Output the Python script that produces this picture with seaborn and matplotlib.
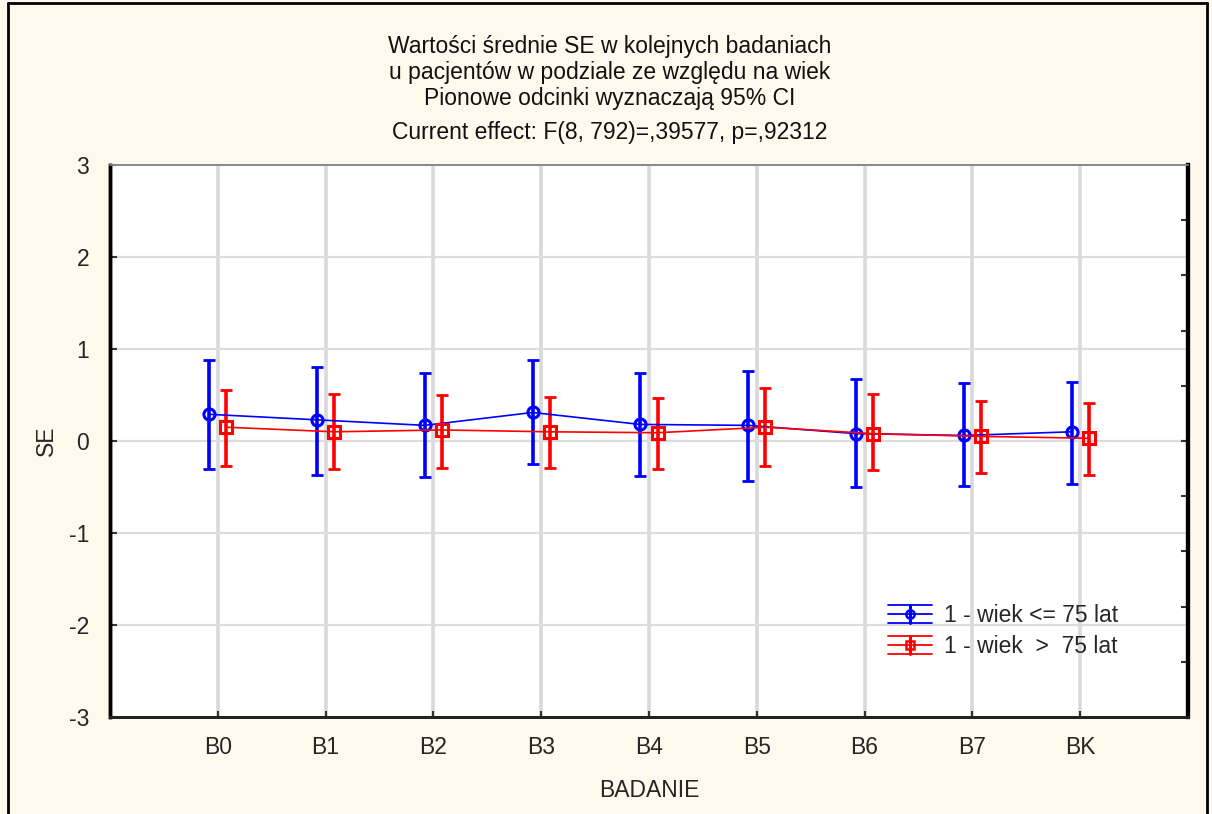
import numpy as np
import pandas as pd
import matplotlib
matplotlib.use("Agg")
import matplotlib.pyplot as plt
import seaborn as sns
from matplotlib.lines import Line2D
from matplotlib.legend_handler import HandlerBase

categories = ["B0", "B1", "B2", "B3", "B4", "B5", "B6", "B7", "BK"]
groups = ["1 - wiek <= 75 lat", "1 - wiek  >  75 lat"]
mean_young = [0.29, 0.23, 0.17, 0.31, 0.18, 0.17, 0.08, 0.06, 0.10]
low_young = [-0.30, -0.37, -0.39, -0.25, -0.38, -0.43, -0.50, -0.49, -0.47]
high_young = [0.88, 0.80, 0.74, 0.88, 0.74, 0.76, 0.67, 0.63, 0.64]
mean_old = [0.15, 0.10, 0.12, 0.10, 0.09, 0.15, 0.08, 0.05, 0.03]
low_old = [-0.27, -0.30, -0.29, -0.29, -0.30, -0.27, -0.32, -0.35, -0.37]
high_old = [0.55, 0.51, 0.50, 0.48, 0.47, 0.58, 0.51, 0.43, 0.41]
yticks_left = [-3, -2, -1, 0, 1, 2, 3]
yticks_right = [-2.4, -1.8, -1.2, -0.6, 0, 0.6, 1.2, 1.8, 2.4]

title_lines = [
    "Wartości średnie SE w kolejnych badaniach",
    "u pacjentów w podziale ze względu na wiek",
    "Pionowe odcinki wyznaczają 95% CI",
    "Current effect: F(8, 792)=,39577, p=,92312",
]

colors = ["#0000FF", "#FF0000"]
markers = ["o", "s"]
offsets = [-0.08, 0.08]
FS = 16.5

sns.set_theme(style="white")
plt.rcParams["font.family"] = ["Liberation Sans", "DejaVu Sans"]

fig = plt.figure(figsize=(12.12, 8.14), dpi=100)
fig.patch.set_facecolor("#FFF8EC")
ax = fig.add_axes([110 / 1212, 1 - 717 / 814, (1188 - 110) / 1212, (717 - 165) / 814])
ax.set_facecolor("white")

pos = np.arange(len(categories))
rows = []
for g, m, lo, hi, off in zip(groups, [mean_young, mean_old], [low_young, low_old],
                             [high_young, high_old], offsets):
    for i, c in enumerate(categories):
        rows.append({"x": pos[i] + off, "SE": m[i], "lo": lo[i], "hi": hi[i], "grupa": g})
df = pd.DataFrame(rows)

# gridlines
for p in pos:
    ax.axvline(p, color="#d9d9d9", lw=2.6, zorder=0)
for yv in yticks_left:
    ax.axhline(yv, color="#dcdcdc", lw=1.6, zorder=0)

for g, col in zip(groups, colors):
    d = df[df["grupa"] == g]
    ax.errorbar(d["x"], d["SE"], yerr=[d["SE"] - d["lo"], d["hi"] - d["SE"]],
                fmt="none", ecolor=col, elinewidth=2.6, capsize=4.5, capthick=2.0, zorder=2)

sns.lineplot(data=df, x="x", y="SE", hue="grupa", style="grupa", palette=colors,
             markers=markers, dashes=False, markersize=8, linewidth=1.2, ax=ax,
             legend=False, zorder=3)
for ln in ax.lines:
    if ln.get_marker() in ("o", "s"):
        ln.set_markerfacecolor("none")
        ln.set_markeredgecolor(ln.get_color())
        ln.set_markeredgewidth(2.2)

ax.set_xlim(-1, 9)
ax.set_ylim(-3, 3)
ax.set_xticks(pos)
ax.set_xticklabels(categories)
ax.set_yticks(yticks_left)
ax.set_yticklabels([str(v) for v in yticks_left])
ax.tick_params(axis="x", direction="in", length=4, width=1.5, color="#333333",
               labelsize=FS, pad=14, bottom=True)
ax.tick_params(axis="y", direction="in", length=5, width=1.5, color="#333333",
               labelsize=FS, pad=15, left=True)
ax.set_xlabel("BADANIE", fontsize=FS, labelpad=14)
ax.set_ylabel("SE", fontsize=FS, labelpad=8)

ax2 = ax.twinx()
ax2.set_ylim(-3, 3)
ax2.set_yticks(yticks_right)
ax2.tick_params(axis="y", direction="in", length=5, width=1.5, color="#333333",
                labelright=False, right=True)
for a in (ax, ax2):
    a.spines["left"].set_color("black")
    a.spines["left"].set_linewidth(2.5)
    a.spines["right"].set_color("black")
    a.spines["right"].set_linewidth(3)
    a.spines["bottom"].set_color("#222222")
    a.spines["bottom"].set_linewidth(2)
    a.spines["top"].set_color("#888888")
    a.spines["top"].set_linewidth(1.2)


class ErrHandler(HandlerBase):
    def __init__(self, color, marker):
        super().__init__()
        self.color = color
        self.marker = marker

    def create_artists(self, legend, orig_handle, xdescent, ydescent, width, height,
                       fontsize, trans):
        cy = height / 2 - ydescent
        half = 6.5
        arts = []
        for yy in (cy - half, cy, cy + half):
            arts.append(Line2D([-xdescent, -xdescent + width], [yy, yy], color=self.color,
                               lw=1.3, transform=trans))
        cx = -xdescent + width / 2
        arts.append(Line2D([cx, cx], [cy - half, cy + half], color=self.color, lw=2.2,
                           transform=trans))
        arts.append(Line2D([cx], [cy], marker=self.marker, markersize=6,
                           markerfacecolor="none", markeredgecolor=self.color,
                           markeredgewidth=1.8, transform=trans))
        return arts


h1 = Line2D([], [], color=colors[0])
h2 = Line2D([], [], color=colors[1])
leg = ax2.legend([h1, h2], groups, loc="upper left", bbox_to_anchor=(872 / 1212, 1 - 588 / 814),
                 bbox_transform=fig.transFigure, frameon=False, fontsize=FS,
                 handlelength=1.9, handletextpad=0.55, labelspacing=0.35, borderpad=0.2,
                 handler_map={h1: ErrHandler(colors[0], "o"), h2: ErrHandler(colors[1], "s")})

ys = [46, 72, 98, 132]
for t, yy in zip(title_lines, ys):
    fig.text(610 / 1212, 1 - yy / 814, t, ha="center", va="center", fontsize=FS,
             color="#111111")

# figure border
for xs, yv in [([8 / 1212, 8 / 1212], [0, 1 - 3 / 814]),
               ([1207 / 1212, 1207 / 1212], [0, 1 - 3 / 814]),
               ([8 / 1212, 1207 / 1212], [1 - 3 / 814, 1 - 3 / 814])]:
    fig.add_artist(Line2D(xs, yv, color="black", lw=2, transform=fig.transFigure))

fig.savefig("out.png", dpi=100, facecolor=fig.get_facecolor())
